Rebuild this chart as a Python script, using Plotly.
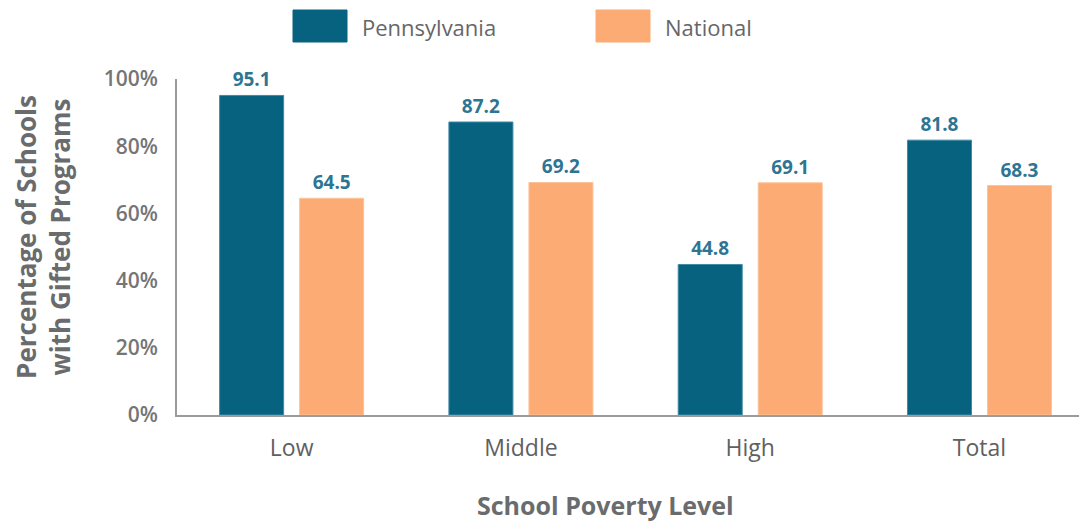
import plotly.graph_objects as go

categories = ["Low", "Middle", "High", "Total"]
pennsylvania = [95.1, 87.2, 44.8, 81.8]
national = [64.5, 69.2, 69.1, 68.3]
y_ticks = [0, 20, 40, 60, 80, 100]
y_tick_labels = ["0%", "20%", "40%", "60%", "80%", "100%"]

PA_COLOR = "#07627f"
NAT_COLOR = "#fcab75"
LABEL_COLOR = "#2d7593"
GRAY = "#6a6b6d"
FONT = "Open Sans"

fig = go.Figure()
fig.add_trace(go.Bar(
    x=categories, y=pennsylvania, name="Pennsylvania",
    marker=dict(color=PA_COLOR, line=dict(color="#3f8aa5", width=1)),
    text=[f"{v:.1f}" for v in pennsylvania], textposition="outside",
    textfont=dict(family=FONT, size=19, color=LABEL_COLOR, weight="bold"),
    cliponaxis=False,
))
fig.add_trace(go.Bar(
    x=categories, y=national, name="National",
    marker=dict(color=NAT_COLOR, line=dict(color="#fdc39a", width=1)),
    text=[f"{v:.1f}" for v in national], textposition="outside",
    textfont=dict(family=FONT, size=19, color=LABEL_COLOR, weight="bold"),
    cliponaxis=False,
))

fig.update_layout(
    width=1079, height=524,
    margin=dict(l=177, r=0, t=79, b=109),
    paper_bgcolor="white", plot_bgcolor="white",
    barmode="group", bargap=0.302, bargroupgap=0.2,
    showlegend=False,
    font=dict(family=FONT, color=GRAY),
)
fig.update_xaxes(
    range=[-0.5, 3.434], showgrid=False, zeroline=False,
    showline=True, linecolor="#9b9b9b", linewidth=2,
    ticks="", tickfont=dict(family=FONT, size=23, color="#5f6062", weight=500),
    ticklabelstandoff=11,
)
fig.update_yaxes(
    range=[0, 100], showgrid=False, zeroline=False,
    showline=True, linecolor="#9b9b9b", linewidth=2,
    tickvals=y_ticks, ticktext=y_tick_labels, ticks="",
    tickfont=dict(family=FONT, size=21, color="#747577", weight=600),
    ticklabelstandoff=13,
)

# Y axis title
fig.add_annotation(
    text="<b>Percentage of Schools<br>with Gifted Programs</b>",
    xref="paper", yref="paper", x=-0.1486, y=0.53,
    textangle=-90, showarrow=False, xanchor="center", yanchor="middle",
    font=dict(family=FONT, size=26, color=GRAY),
)
# X axis title
fig.add_annotation(
    text="<b>School Poverty Level</b>",
    xref="paper", yref="paper", x=0.4756, y=-109 / 336,
    showarrow=False, xanchor="center", yanchor="bottom",
    font=dict(family=FONT, size=25, color=GRAY),
)

# Legend (custom swatches)
legend_items = [("Pennsylvania", PA_COLOR, 293), ("National", NAT_COLOR, 596)]
for name, color, px in legend_items:
    fig.add_shape(type="rect", xref="paper", yref="paper",
                  x0=(px - 177) / 902, x1=(px + 54 - 177) / 902,
                  y0=(415 - 42) / 336, y1=(415 - 10) / 336,
                  fillcolor=color, line=dict(width=1, color=color))
    fig.add_annotation(text=name, xref="paper", yref="paper",
                       x=(px + 67 - 177) / 902, y=(415 - 27) / 336,
                       xanchor="left", yanchor="middle", showarrow=False,
                       font=dict(family=FONT, size=22, color="#666668", weight=500))

fig.write_html("out.html")
